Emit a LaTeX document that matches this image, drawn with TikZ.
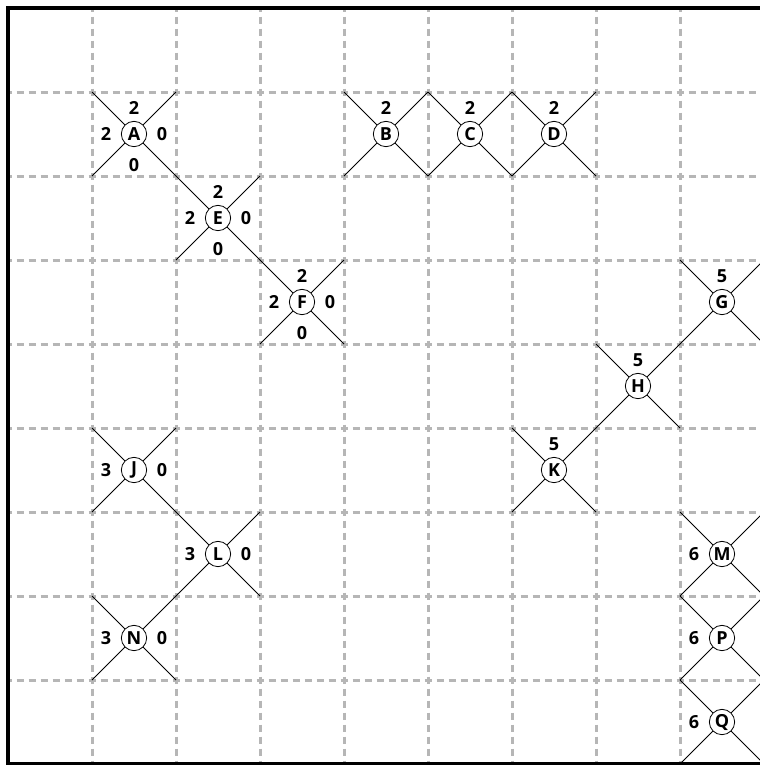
\documentclass[tikz,border=0pt]{standalone}
\usepackage{fontspec}
\setmainfont{Open Sans}
\definecolor{gridc}{RGB}{182,182,182}
\begin{document}
\begin{tikzpicture}[x=0.75pt,y=-0.75pt,
  gridline/.style={draw=gridc, line width=2.25pt, dash pattern=on 5.25pt off 3.75pt, dash phase=2.625pt},
  vtx/.style={circle, draw, fill=white, line width=0.6pt, minimum size=19pt, inner sep=0pt, font=\bfseries\fontsize{13.5}{15}\selectfont},
  lbl/.style={font=\bfseries\fontsize{13.5}{15}\selectfont, inner sep=0pt},
  edge/.style={line width=0.6pt}]
\useasboundingbox (0,0) rectangle (760,765);
\clip (0,0) rectangle (760,765);
\foreach \i in {0,...,9}{\foreach \j in {0,...,9}{\coordinate (c-\i-\j) at ({8+84*\i},{8+84*\j});}}
% grid
\foreach \k in {1,...,9}{
  \draw[gridline] (c-\k-0) -- (c-\k-9);
  \draw[gridline] (c-0-\k) -- (c-9-\k);
}
% nodes
\foreach \n/\i/\j in {A/1/1,B/4/1,C/5/1,D/6/1,E/2/2,F/3/3,G/8/3,H/7/4,K/6/5,J/1/5,L/2/6,N/1/7,M/8/6,P/8/7,Q/8/8}{
  \node[vtx] (\n) at ({50+84*\i},{50+84*\j}) {\n};
}
% connectors to cell corners
\foreach \n/\i/\j in {A/1/1,B/4/1,C/5/1,D/6/1,E/2/2,F/3/3,G/8/3,H/7/4,K/6/5,J/1/5,L/2/6,N/1/7,M/8/6,P/8/7,Q/8/8}{
  \pgfmathtruncatemacro\ii{\i+1}
  \pgfmathtruncatemacro\jj{\j+1}
  \draw[edge] (\n) -- (c-\i-\j) (\n) -- (c-\ii-\j) (\n) -- (c-\i-\jj) (\n) -- (c-\ii-\jj);
}
% labels above
\foreach \n/\t in {A/2,E/2,F/2,B/2,C/2,D/2,G/5,H/5,K/5}{
  \path (\n) ++(0,-26) node[lbl] (\n-t) {\t};
}
% labels left
\foreach \n/\t in {A/2,E/2,F/2,J/3,L/3,N/3,M/6,P/6,Q/6}{
  \path (\n) ++(-28,0) node[lbl] (\n-l) {\t};
}
% labels right
\foreach \n/\t in {A/0,E/0,F/0,J/0,L/0,N/0}{
  \path (\n) ++(28,0) node[lbl] (\n-r) {\t};
}
% labels below
\foreach \n/\t in {A/0,E/0,F/0}{
  \path (\n) ++(0,31) node[lbl] (\n-b) {\t};
}
% frame
\draw[line width=3pt] (c-0-0) rectangle (c-9-9);
\end{tikzpicture}
\end{document}
